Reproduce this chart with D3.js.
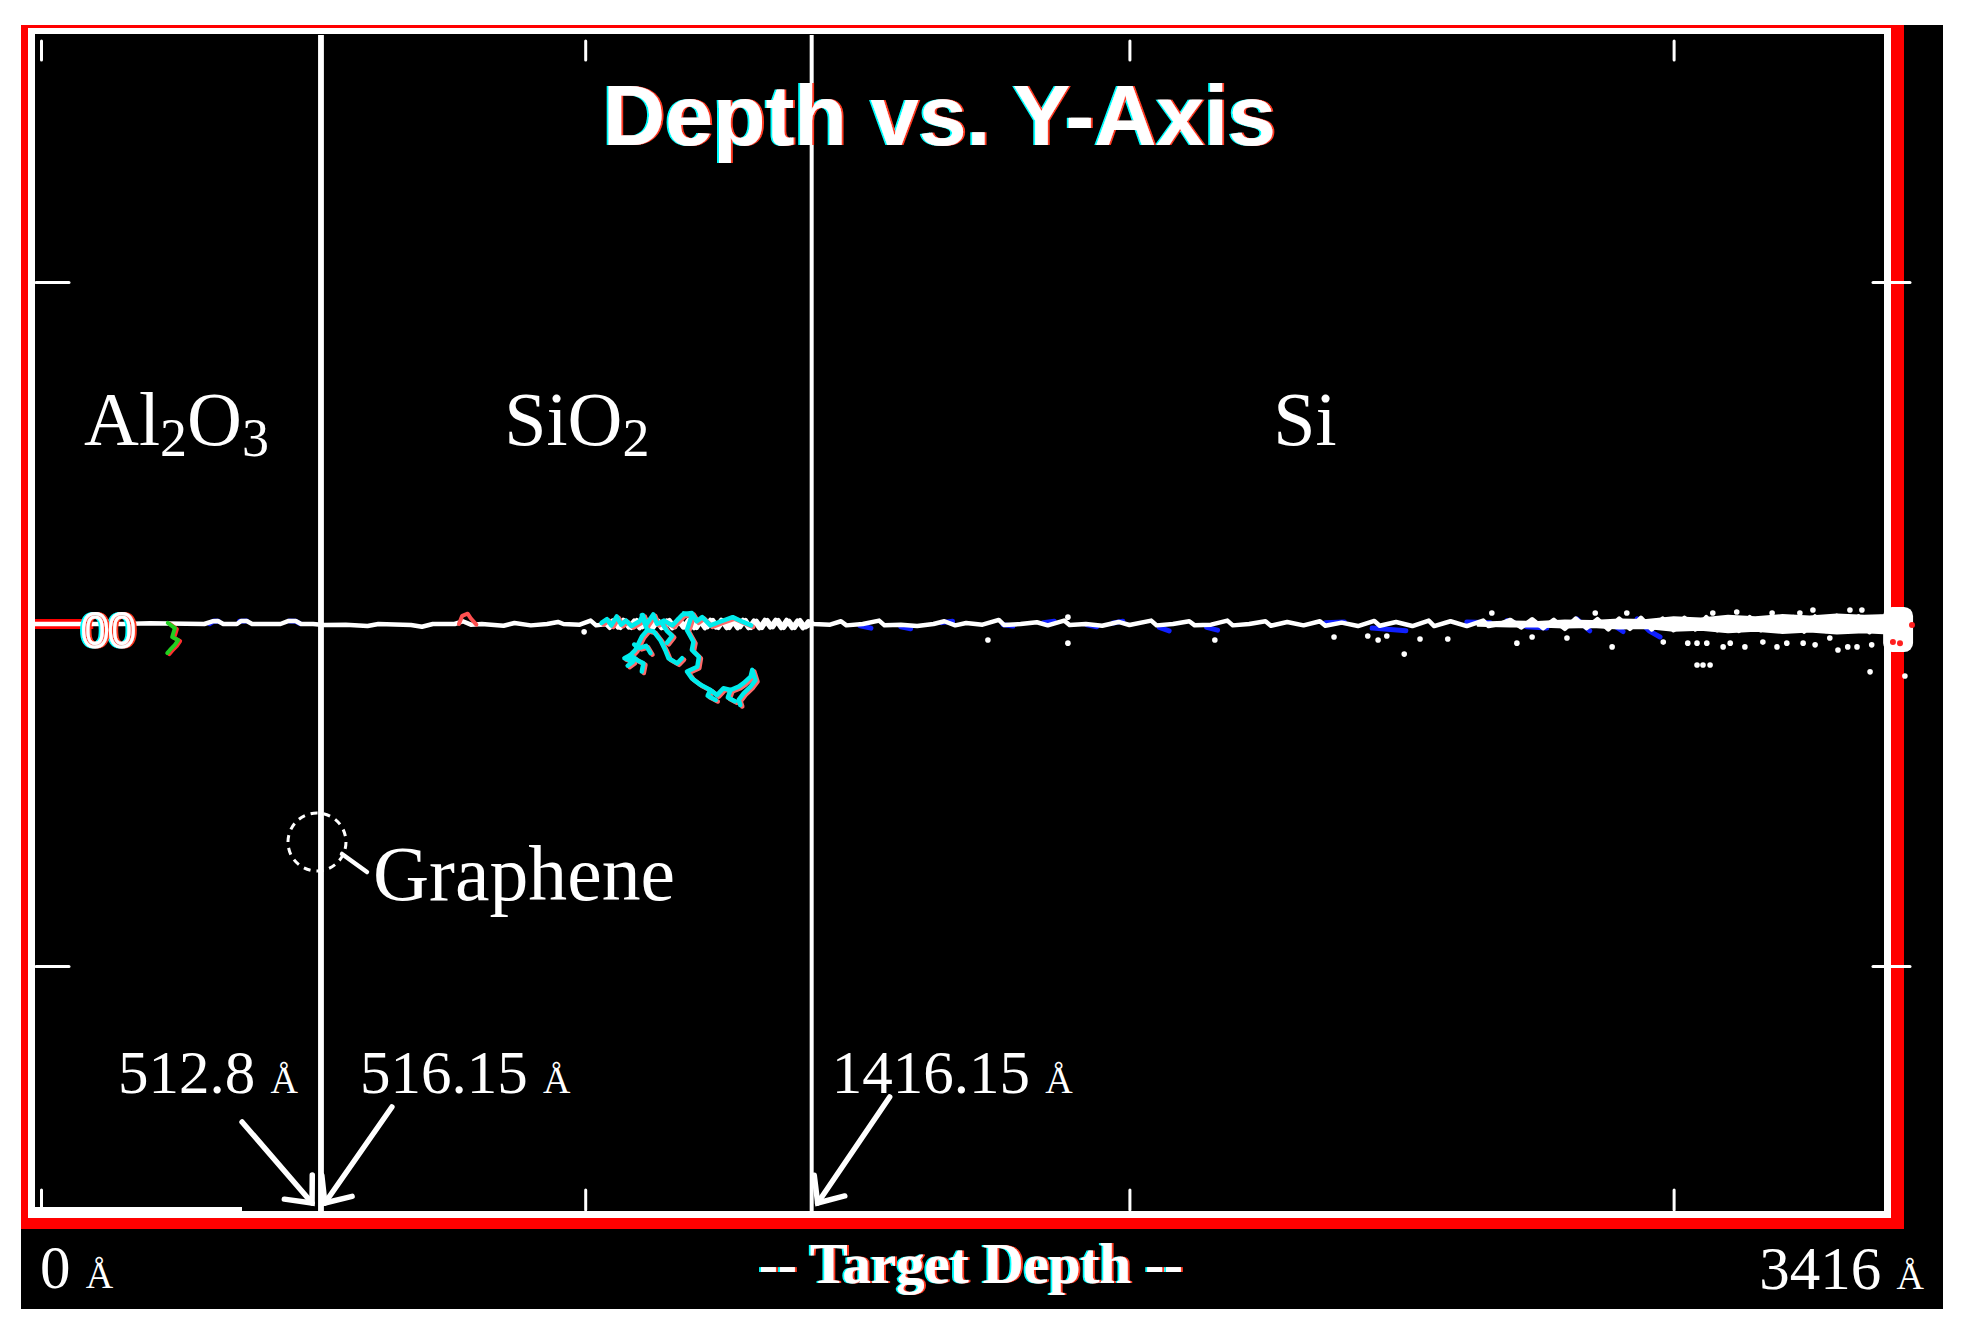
<!DOCTYPE html>
<html><head><meta charset="utf-8">
<script src="https://cdn.jsdelivr.net/npm/d3@7"></script>
<style>html,body{margin:0;padding:0;background:#fff}svg{display:block}</style>
</head><body>
<svg id="chart" width="1964" height="1334">
<defs>
<filter id="fringe" x="-5%" y="-20%" width="110%" height="140%">
  <feFlood flood-color="#00ffff" result="c"/><feComposite in="c" in2="SourceAlpha" operator="in" result="cA"/><feOffset in="cA" dx="-2" dy="0" result="cO"/>
  <feFlood flood-color="#ff3a20" result="r"/><feComposite in="r" in2="SourceAlpha" operator="in" result="rA"/><feOffset in="rA" dx="2" dy="0" result="rO"/>
  <feMerge><feMergeNode in="cO"/><feMergeNode in="rO"/><feMergeNode in="SourceGraphic"/></feMerge>
</filter>
</defs>
</svg>
<script>
// ---------------- DATA ----------------
const depthRange = [0, 3416];            // Å
const lateralRange = [-1708, 1708];      // Å
const depthTicks = [0, 1000, 2000, 3000];
const lateralTicks = [-1000, 1000];
const depthEndLabels = ["0", "3416"];
const interfaces = [512.8, 516.15, 1416.15];
const interfaceLabels = ["512.8", "516.15", "1416.15"];
const layerBounds = [[0, 512.8], [516.15, 1416.15], [1416.15, 3416]];
const layerNames = [[["Al",0],["2",1],["O",0],["3",1]], [["SiO",0],["2",1]], [["Si",0]]];
const titleText = "Depth vs. Y-Axis";
const xTitleText = "-- Target Depth --";
const grapheneText = "Graphene";

// incoming beam (red)
const beam = [[-11, 0], [96, 0]];
// main ion track [depth, lateral]
const ionMain = [[-11,0],[0,0],[90,0],[150,0],[200,-2],[300,0],[315,-8],[325,-9],[335,0],[360,0],[368,-9],[378,-9],[388,0],[440,0],[455,-9],[468,-9],[478,0],[500,0],[520,3],[560,2],[600,6],[620,0],[680,3],[700,8],[720,0],[760,0],[775,-8],[790,2],[810,0],[850,5],[870,-3],[900,4],[930,0],[950,-6],[960,0],[990,2],[1010,-10],[1020,4],[1040,0],
[1050,-10],[1060,10],[1070,-12],[1080,10],[1090,-10],[1100,12],[1110,-12],[1120,10],[1130,-12],[1140,12],[1150,-10],[1160,12],[1170,-12],[1180,10],[1190,-12],[1200,12],[1210,-10],[1220,12],[1230,-12],[1240,10],[1250,-12],[1260,12],[1270,-10],[1280,12],[1290,-12],[1300,12],[1310,-10],[1320,12],[1330,-12],[1340,10],[1350,-12],[1360,12],[1370,-12],[1380,12],[1390,-10],[1400,12],[1410,-8],[1420,0],
[1450,2],[1470,-8],[1480,4],[1510,0],[1540,-10],[1550,4],[1580,2],[1610,6],[1640,0],[1660,-8],[1680,4],[1700,-3],[1730,2],[1760,-12],[1770,3],[1800,0],[1830,-5],[1850,4],[1880,-10],[1890,3],[1920,0],[1950,5],[1980,-6],[2000,3],[2040,-10],[2050,4],[2080,0],[2110,-8],[2120,4],[2150,2],[2180,-10],[2190,4],[2220,0],[2250,-8],[2260,5],[2290,-6],[2320,4],[2350,-8],[2360,5],[2390,-4],[2420,6],[2450,-9],[2460,5],[2490,-6],[2520,6],[2550,-10],[2560,6],[2590,-8],[2620,6],[2650,-10],[2660,6],[2680,0],
[2700,-12],[2720,10],[2740,-14],[2760,12],[2780,-12],[2800,14],[2820,-16],[2840,12],[2860,-14],[2880,16],[2900,-16],[2920,14],[2940,-18],[2960,16],[2980,-16],[3000,18],[3020,-18],[3040,16],[3060,-20],[3080,18],[3100,-18],[3120,20],[3140,-20],[3160,18],[3180,-22],[3200,20],[3220,-20],[3240,22],[3260,-22],[3280,20],[3300,-24],[3320,22],[3340,-22],[3360,24],[3380,-20],[3400,0]];
// second, overlapping track through the SiO2 layer (dense teeth)
const ionTeeth = [[1040,4],[1045,12],[1055,-12],[1065,12],[1075,-10],[1085,12],[1095,-12],[1105,10],[1115,-12],[1125,12],[1135,-10],[1145,12],[1155,-12],[1165,10],[1175,-12],[1185,12],[1195,-10],[1205,12],[1215,-12],[1225,10],[1235,-12],[1245,12],[1255,-10],[1265,12],[1275,-12],[1285,10],[1295,-12],[1305,12],[1315,-10],[1325,12],[1335,-12],[1345,10],[1355,-12],[1365,12],[1375,-10],[1385,12],[1395,-12],[1405,10],[1416,0]];
// dense end band
const bandDepth = [2640,2700,2750,2800,2850,2900,2950,3000,3050,3100,3150,3200,3250,3300,3350,3395];
const bandTop   = [-4,-7,-6,-10,-9,-13,-12,-20,-16,-24,-20,-26,-22,-28,-24,-26];
const bandBot   = [5,7,7,10,9,13,12,20,17,24,20,26,22,28,24,28];
const endBlob = {d0: 3385, d1: 3440, y0: -50, y1: 82};
// cyan recoil cascade in SiO2
const cyanPaths = [
  [[1030,-3],[1040,-14],[1048,4],[1058,-22],[1066,2],[1075,-10],[1085,6],[1100,-8],[1106,-26],[1112,2],[1125,-28],[1132,0],[1145,-10],[1160,4],[1178,-26],[1185,-30],[1196,-32],[1205,-8],[1215,-20],[1230,4],[1250,-8],[1271,-20],[1290,-6],[1305,4]],
  [[1104,-26],[1114,18],[1104,37],[1092,76],[1083,91],[1095,105],[1107,115],[1104,139]],
  [[1114,18],[1126,22],[1138,47],[1147,76],[1153,100],[1169,115],[1178,100]],
  [[1083,91],[1072,100],[1088,110],[1078,122]],
  [[1140,-5],[1150,20],[1160,35],[1150,55]],
  [[1090,60],[1100,70],[1112,64],[1120,85]],
  [[1181,-31],[1196,-26],[1187,18],[1199,52],[1196,76],[1209,96],[1206,125],[1187,139],[1196,159],[1212,178],[1230,193],[1242,208],[1254,188],[1267,193],[1282,183],[1291,173],[1304,154],[1307,134],[1313,164],[1304,183],[1291,203],[1282,222],[1285,237]],
  [[1230,193],[1225,210],[1240,222]],
  [[1267,193],[1262,215],[1275,226]]
];
// green recoil in Al2O3
const greenPath = [[233,-3],[246,12],[241,38],[252,47],[246,61],[237,76],[232,85]];
// red recoil spike
const redSpike = [[768,0],[774,-24],[784,-30],[790,-16],[800,2]];
// blue segments along the track
const blueSegs = [
  [[310,-1],[318,-9],[326,-8]],[[456,-9],[468,-8],[476,-1]],[[365,-8],[378,-9]],
  [[1505,5],[1525,12]],[[1580,8],[1598,14]],[[1655,-4],[1675,-8]],[[1768,2],[1786,6]],[[1842,-4],[1862,-8]],
  [[1922,2],[1940,8]],[[1970,-3],[1988,-8]],[[2055,10],[2073,20]],[[2142,10],[2162,18]],[[2360,-4],[2395,-6]],
  [[2446,12],[2508,20]],[[2620,-6],[2663,-4]],[[2694,-10],[2730,8],[2767,12]],[[2822,-15],[2846,20]],
  [[2889,3],[2907,22]],[[2933,-15],[2955,20],[2975,38]]
];
// scattered end-of-range points
const dots = [[998,23],[1740,47],[1887,56],[1887,-20],[2157,47],[2376,38],[2438,35],[2457,47],[2473,35],[2505,88],[2534,44],[2585,44],[2666,-32],[2712,56],[2740,38],[2804,41],[2856,-32],[2887,67],[2914,-32],[2981,53],[3026,56],[3043,56],[3061,56],[3043,120],[3054,120],[3067,120],[3072,-32],[3091,67],[3104,56],[3116,-35],[3131,67],[3164,53],[3181,-32],[3190,67],[3208,56],[3232,-32],[3238,56],[3256,-41],[3260,61],[3287,41],[3302,76],[3320,67],[3324,-41],[3337,67],[3346,-41],[3361,140],[3364,61],[3425,152]];
const redDots = [[3403,53],[3416,56],[3438,3]];

// ---------------- SCALES ----------------
const svg = d3.select("#chart");
const x = d3.scaleLinear().domain(depthRange).range([41, 1900]);
const y = d3.scaleLinear().domain(lateralRange).range([40, 1208]);
const line = d3.line().x(d => x(d[0])).y(d => y(d[1]));

// ---------------- FRAME ----------------
svg.append("rect").attr("x",21).attr("y",25).attr("width",1922).attr("height",1284).attr("fill","#000");
svg.append("rect").attr("x",21).attr("y",25).attr("width",1883).attr("height",1204).attr("fill","#ff0000");
svg.append("rect").attr("x",28).attr("y",28).attr("width",1863).attr("height",1190).attr("fill","#fff");
svg.append("rect").attr("x",35).attr("y",34).attr("width",1849).attr("height",1177).attr("fill","#000");
svg.append("rect").attr("x",35).attr("y",1207).attr("width",207).attr("height",4).attr("fill","#fff");

function styleAxis(g){
  g.select(".domain").remove();
  g.selectAll(".tick line").attr("stroke","#fff").attr("stroke-width",3).attr("stroke-linecap","round");
  g.selectAll(".tick text").remove();
}
svg.append("g").attr("transform","translate(0,41)")
  .call(d3.axisBottom(x).tickValues(depthTicks).tickSize(19).tickFormat("")).call(styleAxis);
svg.append("g").attr("transform","translate(0,1210)")
  .call(d3.axisTop(x).tickValues(depthTicks).tickSize(20).tickFormat("")).call(styleAxis);
svg.append("g").attr("transform","translate(36,0)")
  .call(d3.axisRight(y).tickValues(lateralTicks).tickSize(33).tickFormat("")).call(styleAxis);
svg.append("g").attr("transform","translate(1910,0)")
  .call(d3.axisLeft(y).tickValues(lateralTicks).tickSize(37).tickFormat("")).call(styleAxis);

// interface lines
svg.append("g").selectAll("line").data(interfaces).join("line")
  .attr("x1",d=>x(d)).attr("x2",d=>x(d)).attr("y1",35).attr("y2",1211)
  .attr("stroke","#fff").attr("stroke-width",4);

// ---------------- TRACKS ----------------
const tracks = svg.append("g").attr("fill","none").attr("stroke-linejoin","round").attr("stroke-linecap","round");
tracks.append("path").attr("d",line(beam)).attr("stroke","#ff0000").attr("stroke-width",10).attr("stroke-linecap","butt");
tracks.selectAll(".blue").data(blueSegs).join("path").attr("class","blue")
  .attr("d",d=>line(d)).attr("stroke","#1020ff").attr("stroke-width",5);
const area = d3.area().x((d,i)=>x(bandDepth[i])).y0((d,i)=>y(bandTop[i])).y1((d,i)=>y(bandBot[i]));
tracks.append("path").attr("d",area(bandDepth)).attr("fill","#fff").attr("stroke","#fff").attr("stroke-width",2);
tracks.append("path").attr("d",line(ionMain)).attr("stroke","#fff").attr("stroke-width",4.5);
tracks.append("path").attr("d",line(ionTeeth)).attr("stroke","#fff").attr("stroke-width",4);
tracks.append("rect").attr("x",x(endBlob.d0)).attr("y",y(endBlob.y0))
  .attr("width",x(endBlob.d1)-x(endBlob.d0)).attr("height",y(endBlob.y1)-y(endBlob.y0))
  .attr("rx",9).attr("fill","#fff").attr("stroke","none");
tracks.append("path").attr("d",line(redSpike)).attr("stroke","#ff5050").attr("stroke-width",4);
tracks.append("path").attr("d",line(greenPath)).attr("transform","translate(2,1)").attr("stroke","#ff3030").attr("stroke-width",4);
tracks.append("path").attr("d",line(greenPath)).attr("stroke","#20d020").attr("stroke-width",4);
tracks.selectAll(".cyanR").data(cyanPaths).join("path").attr("class","cyanR")
  .attr("d",d=>line(d)).attr("transform","translate(2,1.5)").attr("stroke","#ff6a6a").attr("stroke-width",4.5);
tracks.selectAll(".cyan").data(cyanPaths).join("path").attr("class","cyan")
  .attr("d",d=>line(d)).attr("stroke","#00ecec").attr("stroke-width",4.5);
svg.append("g").selectAll("circle").data(dots).join("circle")
  .attr("cx",d=>x(d[0])).attr("cy",d=>y(d[1])).attr("r",2.8).attr("fill","#fff");
svg.append("g").selectAll("circle").data(redDots).join("circle")
  .attr("cx",d=>x(d[0])).attr("cy",d=>y(d[1])).attr("r",3).attr("fill","#ff2020");

// "00" marker glyphs at the surface
svg.append("text").attr("x",x(75)).attr("y",y(0)+23).attr("fill","none")
  .attr("font-family","Liberation Sans, Arial, sans-serif").attr("font-size",48)
  .attr("stroke","#fff").attr("stroke-width",3).attr("filter","url(#fringe)").text("00");

// ---------------- TEXT ----------------
svg.append("text").attr("x",939.5).attr("y",145).attr("text-anchor","middle")
  .attr("font-family","Liberation Sans, Arial, sans-serif").attr("font-weight","bold").attr("font-size",86)
  .attr("textLength",673).attr("lengthAdjust","spacingAndGlyphs").attr("fill","#fff")
  .attr("filter","url(#fringe)").text(titleText);
svg.append("text").attr("x",971).attr("y",1283).attr("text-anchor","middle")
  .attr("font-family","Liberation Serif, Times New Roman, serif").attr("font-weight","bold").attr("font-size",58)
  .attr("textLength",424).attr("lengthAdjust","spacingAndGlyphs").attr("fill","#fff")
  .attr("filter","url(#fringe)").text(xTitleText);

const serif = "Liberation Serif, Times New Roman, serif";
const layerOffsets = [-4, 10, -51];
layerNames.forEach((parts,i)=>{
  const cx = x((layerBounds[i][0]+layerBounds[i][1])/2) + layerOffsets[i];
  const t = svg.append("text").attr("x",cx).attr("y",445).attr("text-anchor","middle")
    .attr("font-family",serif).attr("font-size",76).attr("fill","#fff");
  let sub = false;
  parts.forEach(([s,isSub])=>{
    const sp = t.append("tspan").text(s).attr("font-size",isSub?54:76);
    if(isSub && !sub) sp.attr("dy",11);
    if(!isSub && sub) sp.attr("dy",-11);
    sub = !!isSub;
  });
});

function angstromLabel(xp, yp, num, anchor){
  const t = svg.append("text").attr("x",xp).attr("y",yp).attr("text-anchor",anchor)
    .attr("font-family",serif).attr("font-size",61).attr("fill","#fff");
  t.append("tspan").text(num + " ");
  t.append("tspan").text("Å").attr("font-size",38);
}
const labelOffsets = [[-22,"end"],[38,"start"],[20,"start"]];
interfaces.forEach((d,i)=>angstromLabel(x(d)+labelOffsets[i][0],1093,interfaceLabels[i],labelOffsets[i][1]));
angstromLabel(x(depthRange[0])-1,1288,depthEndLabels[0],"start");
angstromLabel(x(depthRange[1])+24,1289,depthEndLabels[1],"end");

// arrows
const arrowGeom = [[-8,-78,1122],[3,70,1107],[6,78,1097]];
const arrows = svg.append("g").attr("stroke","#fff").attr("stroke-width",5.5).attr("fill","none")
  .attr("stroke-linecap","round").attr("stroke-linejoin","miter");
interfaces.forEach((d,i)=>{
  const [tipOff, tailOff, tailY] = arrowGeom[i];
  const tx = x(d)+tipOff, ty = 1203, sx = x(d)+tailOff, sy = tailY;
  const ang = Math.atan2(ty-sy, tx-sx) + Math.PI, L = 28, a = 0.72;
  arrows.append("path").attr("d",`M${sx},${sy}L${tx},${ty}`);
  arrows.append("path").attr("d",`M${tx+L*Math.cos(ang-a)},${ty+L*Math.sin(ang-a)}L${tx},${ty}L${tx+L*Math.cos(ang+a)},${ty+L*Math.sin(ang+a)}`);
});

// graphene callout
const gx = x((interfaces[0]+interfaces[1])/2) - 4, gy = 842;
svg.append("circle").attr("cx",gx).attr("cy",gy).attr("r",29).attr("fill","none")
  .attr("stroke","#fff").attr("stroke-width",3).attr("stroke-dasharray","7 6");
svg.append("line").attr("x1",gx+25).attr("y1",gy+12).attr("x2",gx+50).attr("y2",gy+30)
  .attr("stroke","#fff").attr("stroke-width",4.5).attr("stroke-linecap","round");
svg.append("text").attr("x",gx+56).attr("y",900).attr("font-family",serif).attr("font-size",78)
  .attr("fill","#fff").attr("textLength",302).attr("lengthAdjust","spacingAndGlyphs").text(grapheneText);
</script>
</body></html>
